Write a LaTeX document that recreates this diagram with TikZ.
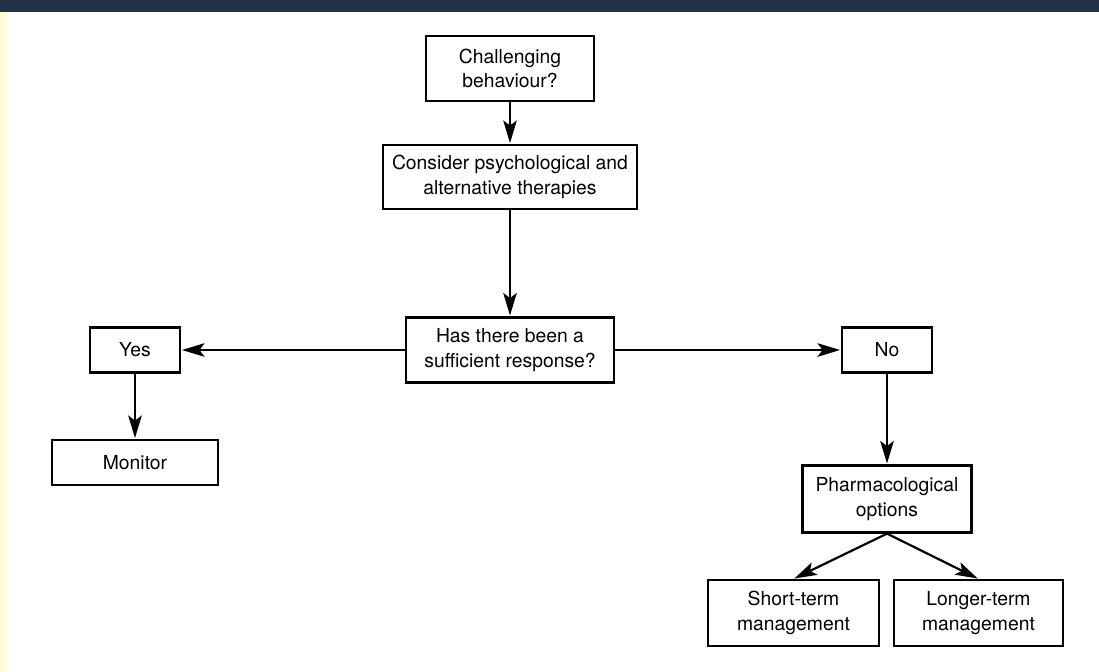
\documentclass[tikz,border=0pt]{standalone}
\usepackage{fontspec}
\setmainfont{TeX Gyre Heros}
\usetikzlibrary{arrows.meta}

\definecolor{barblue}{HTML}{213244}
\definecolor{sideyellow}{HTML}{FFFBD5}

\begin{document}
\begin{tikzpicture}[line width = 1.25pt,
                    box/.style  = {rectangle, draw, fill = white, inner sep = 0pt, align = center, font = \fontsize{11}{14}\selectfont},
                    flow/.style = {-{Stealth[length = 4.5mm, width = 2.7mm, inset = 1mm]}, shorten > = 0.5pt}
                    ]
    \useasboundingbox (0, 0) rectangle (21.98, -13.42);
    \fill[barblue] (0, 0) rectangle (21.98, -0.24);
    \fill[sideyellow] (0, -0.24) rectangle (0.14, -13.42);

    \node[box, minimum width = 3.36cm, minimum height = 1.3cm] (chal) at (10.2, -1.37) {Challenging\\behaviour?};
    \node[box, minimum width = 5.08cm, minimum height = 1.28cm] (cons) at (10.2, -3.54) {Consider psychological and\\alternative therapies};
    \node[box, minimum width = 4.16cm, minimum height = 1.3cm] (resp) at (10.2, -7.0) {Has there been a\\sufficient response?};
    \node[box, minimum width = 1.8cm, minimum height = 0.9cm] (yes) at (2.7, -7.0) {Yes};
    \node[box, minimum width = 1.8cm, minimum height = 0.9cm] (no) at (17.74, -7.0) {No};
    \node[box, minimum width = 3.32cm, minimum height = 0.9cm] (mon) at (2.7, -9.25) {Monitor};
    \node[box, minimum width = 3.38cm, minimum height = 1.34cm] (pharm) at (17.74, -9.98) {Pharmacological\\options};
    \node[box, minimum width = 3.42cm, minimum height = 1.32cm] (short) at (15.87, -12.26) {Short-term\\management};
    \node[box, minimum width = 3.38cm, minimum height = 1.32cm] (long) at (19.57, -12.26) {Longer-term\\management};

    \draw[flow] (chal) -- (cons);
    \draw[flow] (cons) -- (resp);
    \draw[flow] (resp) -- (yes);
    \draw[flow] (resp) -- (no);
    \draw[flow] (yes) -- (mon);
    \draw[flow] (no) -- (pharm);
    \draw[flow] (pharm.south) -- (short.north);
    \draw[flow] (pharm.south) -- (long.north);
\end{tikzpicture}
\end{document}
